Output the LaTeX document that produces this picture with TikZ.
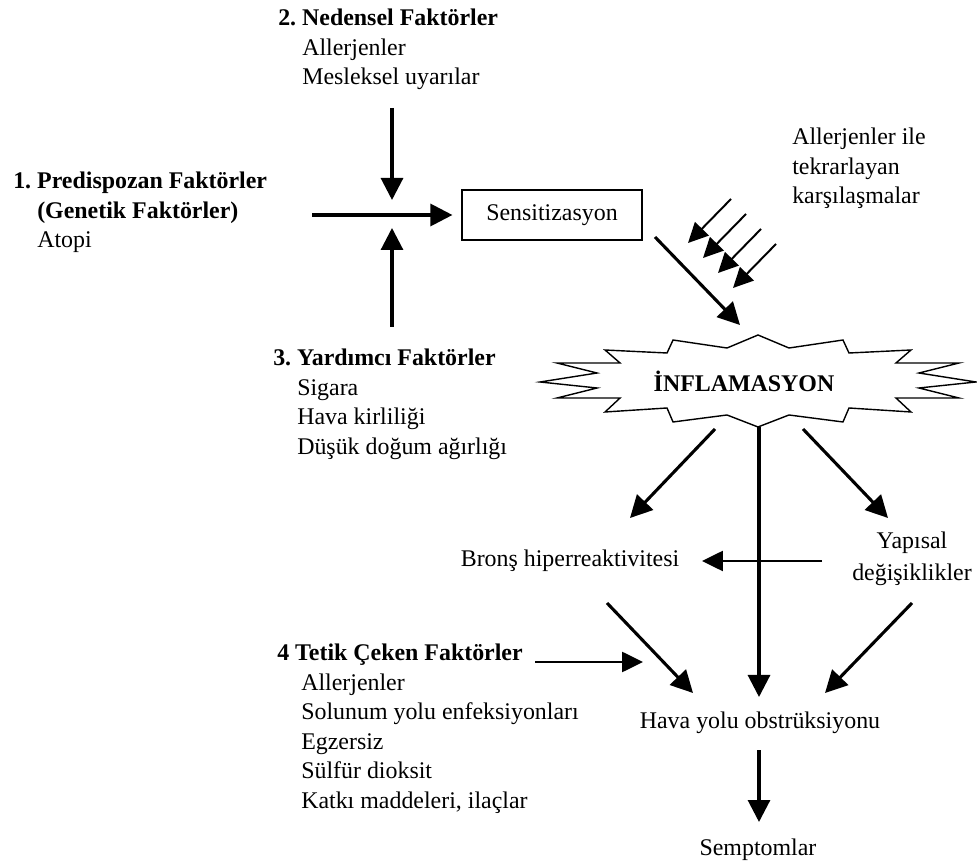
\documentclass[tikz,border=0pt]{standalone}
\usepackage{fontspec}
\setmainfont{Liberation Serif}
\usetikzlibrary{arrows.meta}
\frenchspacing

\begin{document}
\begin{tikzpicture} [scale=1, auto=left]
    \tikzstyle{txt} = [inner sep=0pt, font=\fontsize{17}{21}\selectfont]
    \tikzstyle{list} = [txt, anchor=north west, align=left]
    \tikzstyle{big arrow} = [draw, line width=2.2pt, -{Triangle[length=0.55cm,width=0.55cm]}]
    \tikzstyle{thin arrow} = [draw, line width=1.4pt, -{Triangle[length=0.52cm,width=0.5cm]}]
    \tikzstyle{small arrow} = [draw, line width=1.4pt, -{Triangle[length=0.5cm,width=0.48cm]}]

      \useasboundingbox (0,0) rectangle (24.425,21.65);

      \node[list] (ned)   at (6.95,21.425) {\textbf{2. Nedensel Faktörler}\\\hspace*{0.6cm}Allerjenler\\\hspace*{0.6cm}Mesleksel uyarılar};
      \node[list] (pred)  at (0.325,17.35) {\textbf{1. Predispozan Faktörler}\\\hspace*{0.6cm}\textbf{(Genetik Faktörler)}\\\hspace*{0.6cm}Atopi};
      \node[list] (yard)  at (6.825,12.925) {\textbf{3. Yardımcı Faktörler}\\\hspace*{0.6cm}Sigara\\\hspace*{0.6cm}Hava kirliliği\\\hspace*{0.6cm}Düşük doğum ağırlığı};
      \node[list] (tetik) at (6.925,5.55) {\textbf{4 Tetik Çeken Faktörler}\\\hspace*{0.6cm}Allerjenler\\\hspace*{0.6cm}Solunum yolu enfeksiyonları\\\hspace*{0.6cm}Egzersiz\\\hspace*{0.6cm}Sülfür dioksit\\\hspace*{0.6cm}Katkı maddeleri, ilaçlar};
      \node[list] (tekrar) at (19.8,18.45) {Allerjenler ile\\tekrarlayan\\karşılaşmalar};

      \node[txt,draw,line width=0.8pt,minimum width=4.5cm,minimum height=1.25cm] (sens) at (13.8,16.275) {Sensitizasyon};
      \node[txt] (brons) at (14.25,7.625) {Bronş hiperreaktivitesi};
      \node[txt,align=center,font=\fontsize{17}{22.5}\selectfont] (yapi) at (22.8,7.675) {Yapısal\\değişiklikler};
      \node[txt] (hava)  at (19.0,3.575) {Hava yolu obstrüksiyonu};
      \node[txt] (semp)  at (18.95,0.4) {Semptomlar};

      % inflamasyon yildizi
      \coordinate (burst) at (18.95,12.1);
      \begin{scope}[shift={(burst)}, x=0.025cm, y=-0.025cm]
        \draw[line width=1pt] (0,-47) -- (-31,-34) -- (-85,-42) -- (-91,-29) -- (-153,-32) -- (-138,-19)
          -- (-201,-19) -- (-161,-9) -- (-218,0) -- (-161,6) -- (-201,16) -- (-138,16) -- (-153,30)
          -- (-91,26) -- (-85,40) -- (-31,33) -- (0,45) -- (31,33) -- (85,40) -- (91,26) -- (153,30)
          -- (138,16) -- (201,16) -- (161,6) -- (218,0) -- (161,-9) -- (201,-19) -- (138,-19)
          -- (153,-32) -- (91,-29) -- (85,-42) -- (31,-34) -- cycle;
      \end{scope}
      \node[txt,font=\fontsize{17}{21}\selectfont\bfseries] (inf) at (18.6,12.125) {İNFLAMASYON};

      \coordinate (h0) at (7.8,16.275);
      \coordinate (v0) at (9.8,18.95);
      \coordinate (v1) at (9.8,16.65);
      \coordinate (u0) at (9.8,13.475);
      \coordinate (u1) at (9.8,15.95);
      \coordinate (s0) at (16.375,15.725);
      \coordinate (s1) at (18.5,13.525);
      \coordinate (b0) at (17.875,10.925);
      \coordinate (b1) at (15.75,8.7);
      \coordinate (c0) at (18.975,10.975);
      \coordinate (c1) at (18.975,4.225);
      \coordinate (y0) at (20.075,10.925);
      \coordinate (y1) at (22.2,8.7);
      \coordinate (k0) at (20.55,7.625);
      \coordinate (k1) at (17.55,7.625);
      \coordinate (d0) at (15.175,6.575);
      \coordinate (d1) at (17.325,4.325);
      \coordinate (e0) at (22.8,6.575);
      \coordinate (e1) at (20.625,4.325);
      \coordinate (t0) at (13.375,5.1);
      \coordinate (t1) at (16.075,5.1);
      \coordinate (m0) at (18.975,2.9);
      \coordinate (m1) at (18.975,1.1);

      \draw[big arrow] (h0) -- (sens.west) [shorten >=0.225cm];
      \draw[big arrow] (v0) -- (v1);
      \draw[big arrow] (u0) -- (u1);
      \draw[big arrow] (s0) -- (s1);
      \foreach \i in {0,...,3} {
        \coordinate (r\i) at (18.275+0.375*\i,16.675-0.375*\i);
        \coordinate (q\i) at (17.2+0.375*\i,15.575-0.375*\i);
        \draw[small arrow] (r\i) -- (q\i);
      }
      \draw[big arrow] (b0) -- (b1);
      \draw[big arrow] (c0) -- (c1);
      \draw[big arrow] (y0) -- (y1);
      \draw[thin arrow] (k0) -- (k1);
      \draw[big arrow] (d0) -- (d1);
      \draw[big arrow] (e0) -- (e1);
      \draw[thin arrow] (t0) -- (t1);
      \draw[big arrow] (m0) -- (m1);
    \end{tikzpicture}
\end{document}
